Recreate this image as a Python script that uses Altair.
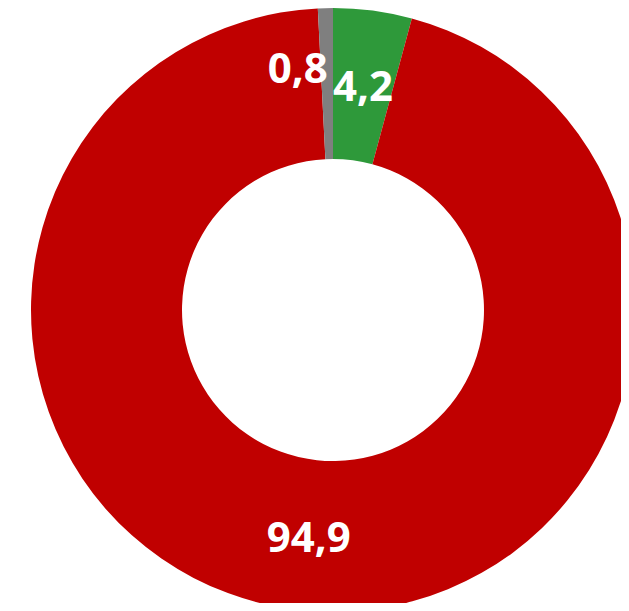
import altair as alt
import pandas as pd

categories = ["green", "red", "grey"]
values = [4.2, 94.9, 0.8]
labels = ["4,2", "94,9", "0,8"]
colors = ["#2E993A", "#C00000", "#7F7F7F"]
order = [1, 2, 3]

df = pd.DataFrame({"cat": categories, "value": values, "label": labels, "order": order})

color_scale = alt.Scale(domain=categories, range=colors)

base = alt.Chart(df).encode(
    theta=alt.Theta("value:Q", stack=True),
    order=alt.Order("order:Q"),
)

arc = base.mark_arc(outerRadius=302, innerRadius=151, stroke=None).encode(
    color=alt.Color("cat:N", scale=color_scale, legend=None),
    x=alt.value(325),
    y=alt.value(302),
)

text_main = base.transform_filter(alt.datum.cat != "grey").mark_text(
    radius=227, font="Open Sans", fontWeight="bold", fontSize=42, color="white",
    baseline="middle", align="center", dy=3
).encode(text="label:N", x=alt.value(325), y=alt.value(302))

text_grey = base.transform_filter(alt.datum.cat == "grey").mark_text(
    radius=227, font="Open Sans", fontWeight="bold", fontSize=42, color="white",
    baseline="middle", align="center", dx=-41, dy=-13
).encode(text="label:N", x=alt.value(325), y=alt.value(302))

chart = alt.layer(arc, text_main, text_grey).properties(
    width=613, height=595, padding=0,
    autosize=alt.AutoSizeParams(type="none"),
).configure_view(stroke=None)

chart.save("out.html", embed_options={"renderer": "svg", "actions": False})
